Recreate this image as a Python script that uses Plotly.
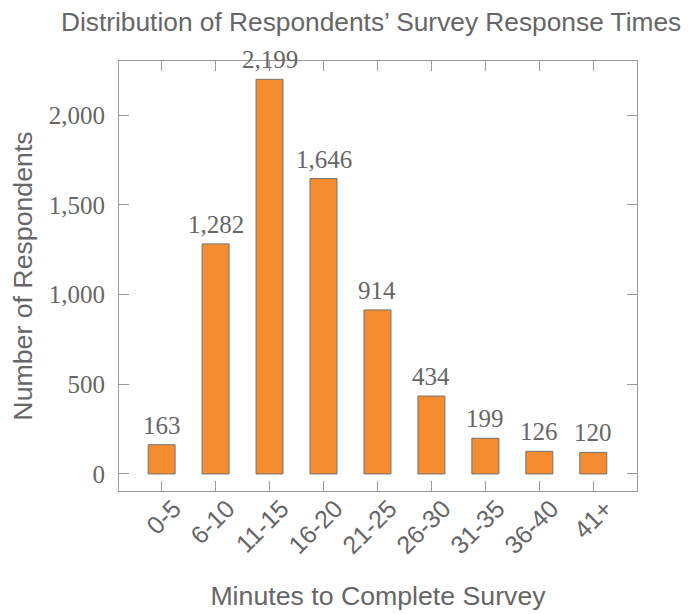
import plotly.graph_objects as go

categories = ["0-5", "6-10", "11-15", "16-20", "21-25", "26-30", "31-35", "36-40", "41+"]
respondents = [163, 1282, 2199, 1646, 914, 434, 199, 126, 120]
y_ticks = [0, 500, 1000, 1500, 2000]

TEXT = "#666666"
FRAME = "#9a9a9a"
SANS = "Liberation Sans, Arial, sans-serif"
SERIF = "Liberation Serif, Times New Roman, serif"

fig = go.Figure(
    go.Bar(
        x=categories,
        y=respondents,
        width=0.5,
        marker=dict(color="#F68C30", line=dict(color="#737373", width=1)),
        cliponaxis=False,
    )
)

# value labels above each bar, placed in data coordinates
for cat, val in zip(categories, respondents):
    fig.add_annotation(
        x=cat, y=val, xref="x", yref="y",
        text=f"{val:,}", showarrow=False,
        yanchor="bottom", yshift=4,
        font=dict(family=SERIF, size=25, color=TEXT),
    )

# the page body adds an 8px margin, so the figure is sized to fit the window
fig.update_layout(
    width=689,
    height=606,
    margin=dict(l=111, r=60, t=53, b=123, autoexpand=False),
    plot_bgcolor="white",
    paper_bgcolor="white",
    showlegend=False,
    title=dict(
        text="Distribution of Respondents\u2019 Survey Response Times",
        font=dict(family=SANS, size=26.3, color=TEXT),
        xref="container", x=0.527, xanchor="center",
        yref="container", y=0.977, yanchor="middle",
    ),
    xaxis=dict(
        range=[-0.79, 8.81],
        showline=True, linecolor=FRAME, linewidth=1, mirror="ticks",
        ticks="inside", ticklen=10, tickcolor=FRAME, tickwidth=1,
        tickangle=-45,
        tickfont=dict(family=SANS, size=25, color=TEXT),
        ticklabelshift=12,
        ticklabelstandoff=-8,
        showgrid=False, zeroline=False,
        title=dict(text="Minutes to Complete Survey",
                   font=dict(family=SANS, size=26.7, color=TEXT), standoff=28),
    ),
    yaxis=dict(
        range=[-95, 2301],
        tickvals=y_ticks, tickformat=",",
        showline=True, linecolor=FRAME, linewidth=1, mirror="ticks",
        ticks="inside", ticklen=10, tickcolor=FRAME, tickwidth=1,
        tickfont=dict(family=SERIF, size=25, color=TEXT),
        ticklabelstandoff=8,
        showgrid=False, zeroline=False,
        title=dict(text="Number of Respondents",
                   font=dict(family=SANS, size=26.7, color=TEXT), standoff=11),
    ),
)

fig.write_html("out.html")
